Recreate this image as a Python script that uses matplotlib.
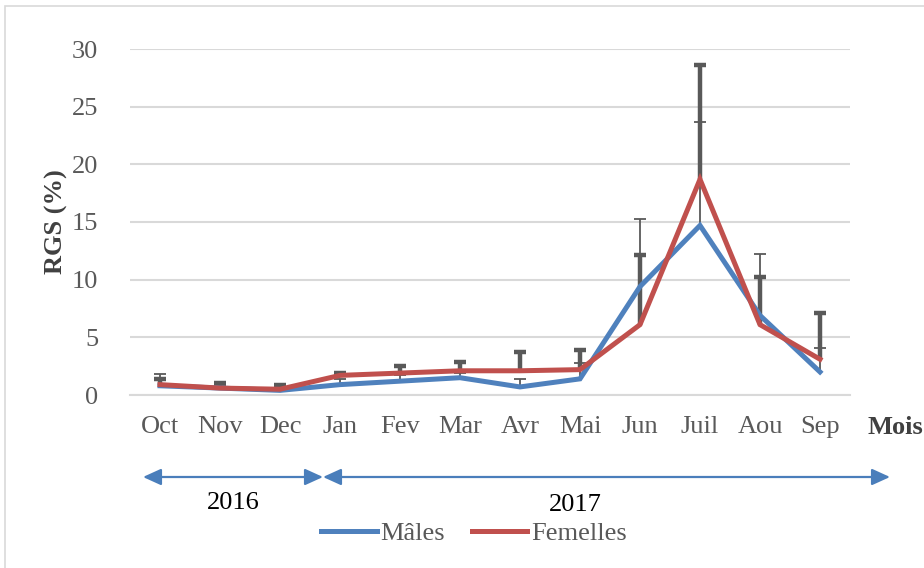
import numpy as np
import matplotlib.pyplot as plt
from matplotlib.patches import FancyArrowPatch, Rectangle
from matplotlib.lines import Line2D

# Data
months = ['Oct', 'Nov', 'Dec', 'Jan', 'Fev', 'Mar', 'Avr', 'Mai', 'Jun', 'Juil', 'Aou', 'Sep']
males = [0.8, 0.6, 0.4, 0.9, 1.2, 1.5, 0.7, 1.4, 9.4, 14.7, 6.9, 2.0]
females = [0.9, 0.6, 0.5, 1.7, 1.9, 2.1, 2.1, 2.2, 6.1, 18.7, 6.1, 3.1]
males_top = [1.8, 0.8, 0.7, 1.4, 1.7, 1.9, 1.4, 2.8, 15.3, 23.7, 12.2, 4.1]
females_top = [1.35, 1.0, 0.9, 1.9, 2.5, 2.9, 3.7, 3.9, 12.1, 28.6, 10.2, 7.1]

males_err = np.array(males_top) - np.array(males)
females_err = np.array(females_top) - np.array(females)

plt.rcParams['font.family'] = ['Liberation Serif', 'DejaVu Serif']

blue = '#4f81bd'
red = '#c0504d'
errc = '#595959'
txt = '#595959'
fs = 19

fig = plt.figure(figsize=(9.24, 5.68), dpi=100)
W, H = 924, 568
ax = fig.add_axes([130 / W, 1 - 395 / H, 720 / W, 346 / H])

x = np.arange(len(months))

# error bars (upper only)
for vals, err, lw in [(males, males_err, 1.3), (females, females_err, 3.2)]:
    eb = ax.errorbar(x, vals, yerr=[np.zeros(len(x)), err], fmt='none',
                     ecolor=errc, elinewidth=lw, capsize=4.3, capthick=lw, zorder=2)
    eb[1][0].set_visible(False)  # hide lower caps

ax.plot(x, males, color=blue, lw=3.6, zorder=3, solid_joinstyle='miter')
ax.plot(x, females, color=red, lw=3.6, zorder=4, solid_joinstyle='miter')

ax.set_xlim(-0.5, len(months) - 0.5)
ax.set_ylim(0, 30)
ax.set_yticks(range(0, 31, 5))
ax.set_xticks(x)
ax.set_xticklabels(months)
ax.tick_params(axis='both', length=0, labelsize=fs, labelcolor=txt)
ax.tick_params(axis='x', pad=15)
ax.tick_params(axis='y', pad=23)
ax.grid(axis='y', color='#d9d9d9', lw=1.5)
ax.set_axisbelow(True)
for s in ['top', 'right', 'left']:
    ax.spines[s].set_visible(False)
ax.spines['bottom'].set_color('#d9d9d9')
ax.spines['bottom'].set_linewidth(1.5)

fig.text(56 / W, 1 - 222 / H, 'RGS (%)', fontsize=fs, fontweight='bold', color='#404040',
         rotation=90, ha='center', va='center')
fig.text(895 / W, 1 - 428 / H, 'Mois', fontsize=fs, fontweight='bold',
         color='#404040', ha='center', va='center')

# year arrows
ay = 1 - 477 / H
for x0, x1 in [(143, 323), (323, 890)]:
    arr = FancyArrowPatch((x0 / W, ay), (x1 / W, ay), transform=fig.transFigure,
                          arrowstyle='<|-|>,head_length=1.1,head_width=0.5',
                          mutation_scale=10, color='#4a7ebb', lw=1.6,
                          shrinkA=0, shrinkB=0)
    fig.add_artist(arr)
fig.text(233 / W, 1 - 503 / H, '2016', fontsize=fs, color='black', ha='center', va='center')
fig.text(575 / W, 1 - 505 / H, '2017', fontsize=fs, color='black', ha='center', va='center')

# legend
handles = [Line2D([], [], color=blue, lw=3.6), Line2D([], [], color=red, lw=3.6)]
leg = fig.legend(handles, ['Mâles', 'Femelles'], loc='center', bbox_to_anchor=(474 / W, 1 - 533 / H),
                 ncol=2, frameon=False, fontsize=fs, handlelength=2.1, handletextpad=0.15,
                 columnspacing=1.0)
for t in leg.get_texts():
    t.set_color(txt)

# chart border
fig.add_artist(Rectangle((5 / W, -0.1), 1.2, 1 - 6 / H + 0.1, transform=fig.transFigure,
                         fill=False, ec='#d9d9d9', lw=1.2))

fig.savefig('out.png', dpi=100)
